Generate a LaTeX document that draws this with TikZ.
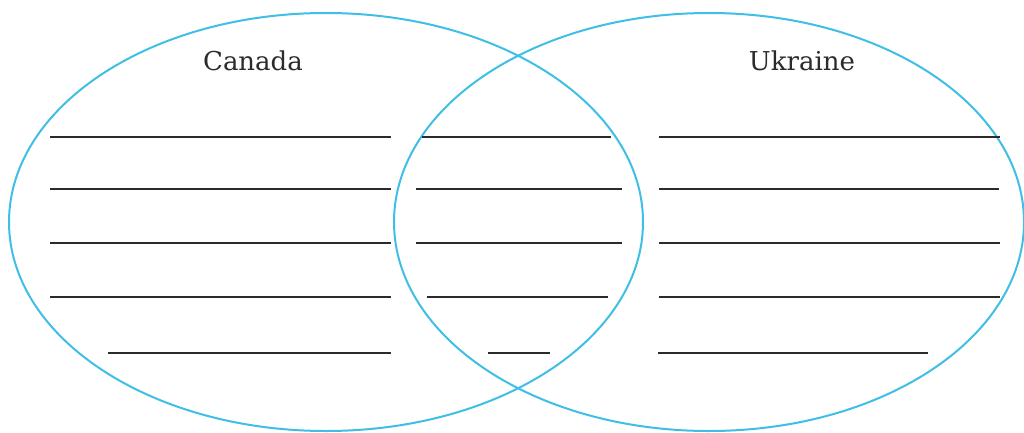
\documentclass[tikz,border=0pt]{standalone}
\usepackage{fontspec}
\setmainfont{DejaVu Serif}
\usepackage{xcolor}
\usepackage{tikz}
\usetikzlibrary{positioning}
\definecolor{ring}{HTML}{3FBEE6}
\definecolor{ink}{HTML}{2B2B2B}

\begin{document}
\begin{tikzpicture}[x=1pt,y=1pt]
\useasboundingbox (0,0) rectangle (1024,432);
% CIRCLES
\draw[ring,line width=2pt] (326,210) ellipse [x radius=317,y radius=209];
\draw[ring,line width=2pt] (709,210) ellipse [x radius=315,y radius=209];
% TITLES
\node[font=\fontsize{26}{30}\selectfont,text=ink,anchor=base] (canada) at (253,361) {Canada};
\node[font=\fontsize{26}{30}\selectfont,text=ink,anchor=base] (ukraine) at (802,361) {Ukraine};
% WRITING LINES
\foreach \yy/\la/\lb/\ma/\mb/\ra/\rb in {295/50/391/422/611/659/1000,
    243/50/391/416/622/659/999, 189/50/391/416/622/659/1000,
    135/50/391/427/608/659/1000, 79/108/391/488/550/658/928}{
  \draw[ink,line width=1.3pt] (\la,\yy) -- (\lb,\yy);
  \draw[ink,line width=1.3pt] (\ma,\yy) -- (\mb,\yy);
  \draw[ink,line width=1.3pt] (\ra,\yy) -- (\rb,\yy);
}
\end{tikzpicture}
\end{document}
